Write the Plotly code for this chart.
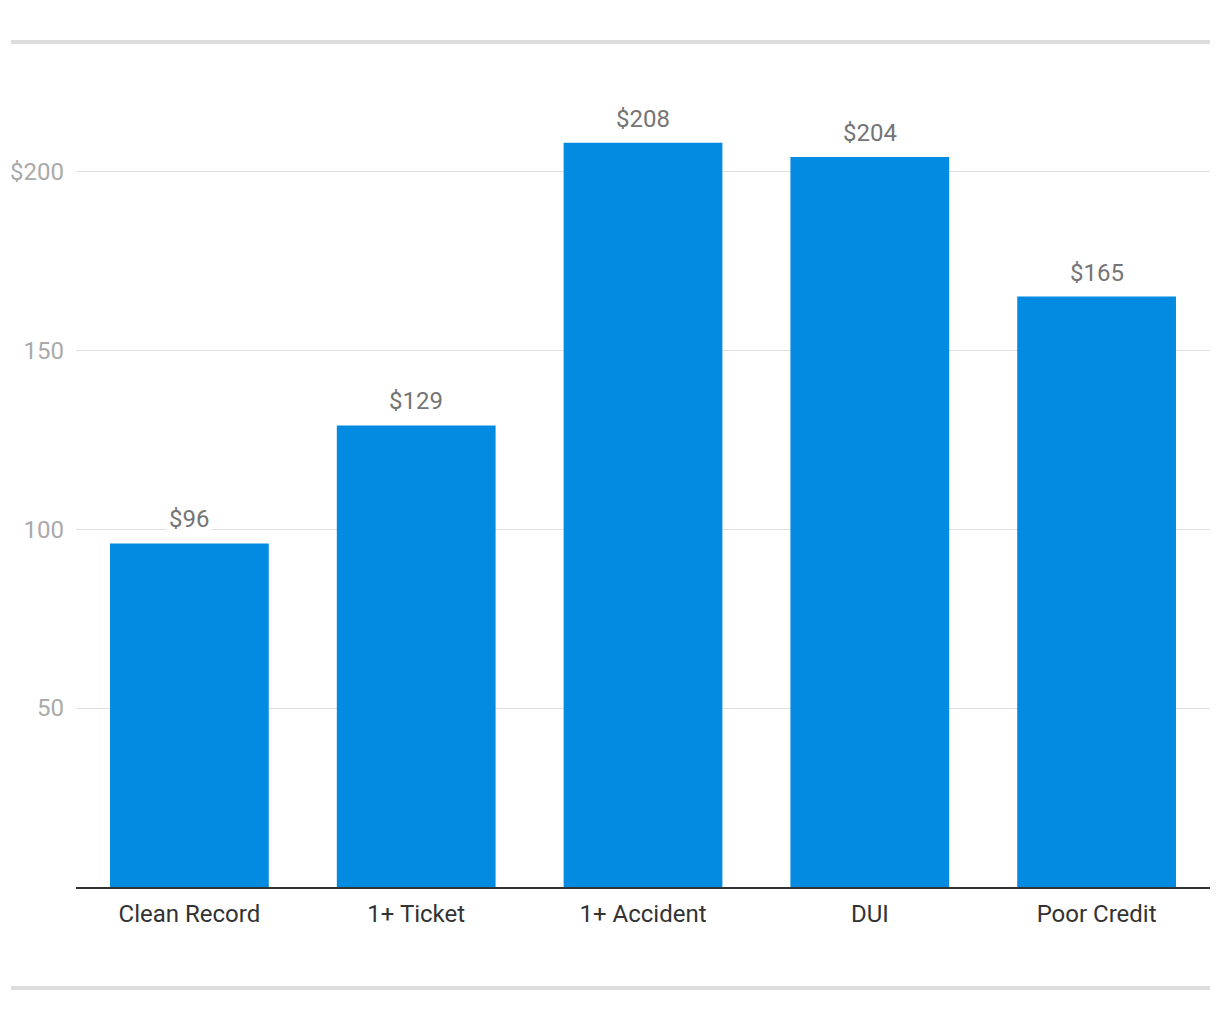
import plotly.graph_objects as go

categories = ["Clean Record", "1+ Ticket", "1+ Accident", "DUI", "Poor Credit"]
values = [96, 129, 208, 204, 165]
labels = ["$96", "$129", "$208", "$204", "$165"]
ytick_vals = [50, 100, 150, 200]
ytick_text = ["50", "100", "150", "$200"]

FONT = "Roboto"
fig = go.Figure()
fig.add_trace(go.Bar(
    x=categories, y=values, marker=dict(color="#028be0", line=dict(width=0)),
    width=0.7, hoverinfo="skip"))

for c, v, t in zip(categories, values, labels):
    fig.add_annotation(x=c, y=v, text=t, showarrow=False, yanchor="bottom",
                       yshift=7, bgcolor="white", borderpad=2,
                       font=dict(family=FONT, size=24, color="#757575"))

# decorative top/bottom rules
fig.add_shape(type="line", xref="paper", yref="paper", x0=-0.0573, x1=1.0,
              y0=1.0267, y1=1.0267, line=dict(color="#dddddd", width=4))
fig.add_shape(type="line", xref="paper", yref="paper", x0=-0.0573, x1=1.0,
              y0=-0.1227, y1=-0.1227, line=dict(color="#dddddd", width=4))

fig.update_layout(
    width=1220, height=1020, autosize=False,
    margin=dict(l=76, r=10, t=64, b=133),
    paper_bgcolor="white", plot_bgcolor="white",
    showlegend=False, bargap=0.3,
    font=dict(family=FONT),
)
fig.update_xaxes(showline=True, linecolor="#333333", linewidth=2,
                 tickfont=dict(family=FONT, size=24, color="#333333"),
                 ticks="", ticklabelstandoff=4, showgrid=False)
fig.update_yaxes(range=[0, 230], tickvals=ytick_vals, ticktext=ytick_text,
                 showgrid=True, gridcolor="#e0e0e0", gridwidth=1,
                 zeroline=False, showline=False, ticks="",
                 ticklabelstandoff=11,
                 tickfont=dict(family=FONT, size=24, color="#aaaaaa"))

fig.write_html("out.html", config={"displayModeBar": False})
